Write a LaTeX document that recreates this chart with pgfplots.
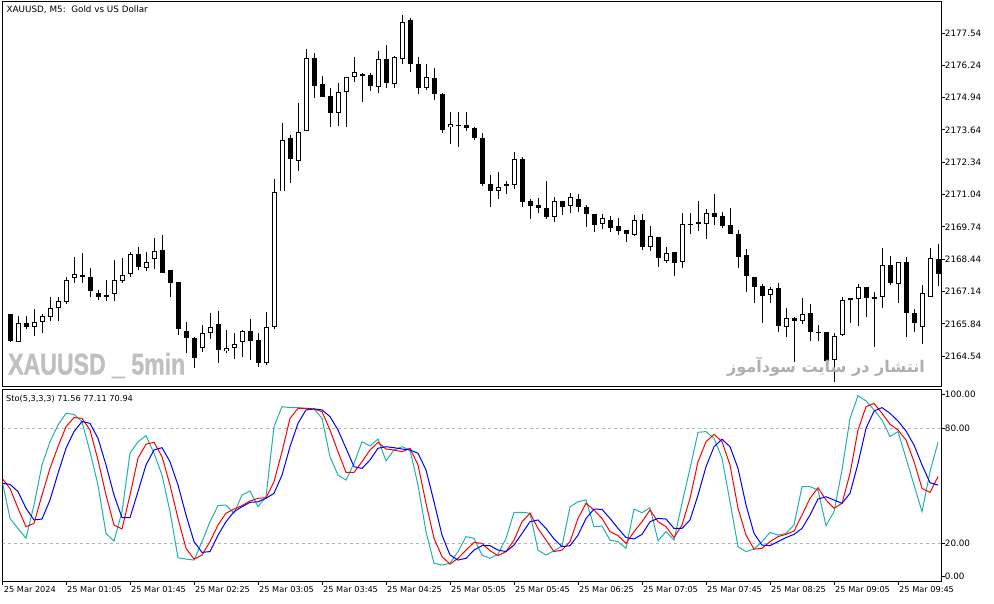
\documentclass[border=0pt]{standalone}
\usepackage{pgfplots}
\pgfplotsset{compat=1.18}
\usepackage{pgfplotstable}
\usepackage{fontspec}
\usepackage{graphicx}
\setmainfont{DejaVu Sans}
\newfontfamily\wmfont[FakeBold=1.5]{Liberation Sans}
\newfontfamily\arabicfont[Script=Arabic]{DejaVu Sans}
\TeXXeTstate=1

\definecolor{kline}{RGB}{32,178,170}
\definecolor{wmgray}{RGB}{192,192,192}
\definecolor{fagray}{RGB}{175,175,175}
\definecolor{lvl}{RGB}{180,180,180}

% bullish candles: n open high low close
\pgfplotstableread{
n o h l c
2 2165.11 2166.15 2165.11 2165.87
4 2165.71 2166.43 2165.35 2165.91
5 2165.91 2166.23 2165.47 2166.15
6 2166.11 2166.92 2165.95 2166.47
7 2166.47 2166.92 2165.95 2166.76
8 2166.72 2167.72 2166.64 2167.60
9 2167.68 2168.53 2167.48 2167.84
13 2166.92 2167.60 2166.76 2167.00
14 2167.04 2168.41 2166.76 2167.60
15 2167.56 2168.49 2167.48 2167.80
16 2167.84 2168.73 2167.72 2168.65
18 2168.12 2168.73 2168.00 2168.33
19 2168.45 2169.29 2168.08 2168.77
25 2164.86 2165.79 2164.70 2165.47
26 2165.47 2166.27 2165.23 2165.71
28 2164.74 2165.59 2164.66 2164.86
29 2164.86 2165.47 2164.42 2165.02
30 2165.11 2165.59 2164.54 2165.55
33 2164.26 2166.31 2164.18 2165.71
34 2165.71 2171.67 2165.63 2171.14
35 2171.18 2173.92 2171.18 2173.27
37 2172.39 2174.72 2171.99 2173.56
38 2173.60 2176.90 2173.60 2176.53
42 2174.32 2175.53 2173.80 2175.17
43 2175.17 2175.77 2173.76 2175.77
44 2175.77 2176.57 2175.57 2175.97
47 2175.37 2176.82 2175.13 2176.49
49 2175.49 2176.61 2175.33 2176.57
50 2176.53 2178.30 2176.33 2178.02
53 2175.33 2176.29 2175.25 2175.77
56 2173.76 2174.36 2173.11 2173.88
62 2171.18 2171.95 2170.86 2171.34
63 2171.38 2171.59 2171.06 2171.46
64 2171.46 2172.75 2171.26 2172.47
69 2170.14 2170.94 2169.97 2170.78
71 2170.58 2171.10 2170.30 2170.94
75 2169.89 2170.26 2169.65 2170.10
79 2169.41 2170.22 2169.37 2170.02
81 2168.93 2169.77 2168.77 2169.37
83 2168.37 2168.93 2168.29 2168.69
85 2168.33 2170.30 2168.08 2169.85
88 2169.85 2170.46 2169.25 2170.30
96 2167.00 2167.36 2166.68 2167.24
98 2165.71 2166.47 2165.31 2166.07
100 2165.95 2166.88 2165.83 2166.23
104 2164.38 2165.47 2163.50 2165.35
105 2165.39 2166.92 2165.35 2166.80
107 2166.84 2167.44 2165.75 2167.32
109 2166.84 2167.12 2164.90 2166.92
110 2166.92 2168.89 2166.47 2168.20
112 2167.44 2168.33 2166.68 2168.33
115 2165.71 2167.40 2165.03 2167.08
116 2166.92 2168.89 2166.92 2168.49
}\bull

% bearish candles and dojis
\pgfplotstableread{
n o h l c
1 2166.23 2166.23 2165.11 2165.15
3 2165.87 2166.15 2165.63 2165.71
10 2167.80 2168.69 2167.48 2167.72
11 2167.72 2168.08 2166.92 2167.16
12 2167.12 2167.24 2166.80 2166.92
17 2168.65 2168.93 2168.00 2168.12
20 2168.81 2169.41 2167.88 2167.92
21 2168.00 2168.00 2166.92 2167.48
22 2167.52 2167.52 2165.39 2165.63
23 2165.55 2165.91 2164.66 2165.27
24 2165.27 2165.31 2164.06 2164.46
27 2165.83 2166.35 2164.26 2164.78
31 2165.55 2166.03 2164.38 2165.15
32 2165.19 2165.47 2164.10 2164.26
36 2173.31 2173.44 2171.50 2172.47
39 2176.53 2176.74 2174.93 2175.41
40 2175.49 2175.81 2174.97 2175.00
41 2175.00 2175.33 2173.76 2174.32
45 2175.89 2175.93 2174.76 2175.81
46 2175.85 2175.93 2175.21 2175.41
48 2176.49 2177.06 2175.33 2175.53
51 2178.10 2178.18 2175.97 2176.33
52 2176.29 2176.57 2175.09 2175.33
54 2175.73 2176.13 2174.88 2175.09
55 2175.09 2175.13 2173.52 2173.64
57 2173.84 2174.36 2172.95 2173.84
58 2173.84 2174.36 2173.60 2173.72
59 2173.72 2173.76 2173.23 2173.31
60 2173.31 2173.52 2171.38 2171.46
61 2171.46 2171.83 2170.54 2171.18
65 2172.47 2172.55 2170.54 2170.74
66 2170.78 2170.86 2170.06 2170.58
67 2170.62 2170.90 2170.30 2170.50
68 2170.50 2171.59 2170.06 2170.14
70 2170.78 2170.78 2170.22 2170.54
72 2170.86 2171.06 2170.34 2170.54
73 2170.54 2170.62 2169.73 2170.26
74 2170.26 2170.26 2169.53 2169.85
76 2170.02 2170.18 2169.57 2169.73
77 2169.77 2170.10 2169.41 2169.57
78 2169.61 2169.61 2169.13 2169.45
80 2170.02 2170.26 2168.81 2168.93
82 2169.33 2169.33 2168.12 2168.49
84 2168.73 2168.73 2167.76 2168.29
86 2169.85 2170.30 2169.45 2169.85
87 2169.93 2170.78 2169.57 2169.85
89 2170.30 2171.06 2169.85 2170.14
90 2170.18 2170.34 2169.69 2169.77
91 2169.81 2170.50 2169.45 2169.45
92 2169.45 2169.61 2168.08 2168.53
93 2168.61 2168.85 2167.12 2167.76
94 2167.72 2167.72 2166.68 2167.32
95 2167.36 2167.44 2165.87 2166.96
97 2167.28 2167.48 2165.51 2165.75
99 2166.07 2166.11 2164.30 2165.95
101 2166.27 2166.64 2165.15 2165.51
102 2165.51 2165.79 2165.15 2165.51
103 2165.51 2165.51 2164.30 2164.34
106 2166.84 2166.84 2165.87 2166.84
108 2167.32 2167.32 2166.11 2166.88
111 2168.20 2168.57 2167.40 2167.48
113 2168.33 2168.53 2165.31 2166.27
114 2166.27 2166.43 2165.51 2165.87
117 2168.45 2169.05 2167.36 2167.88
}\bear

\pgfplotsset{
  mt5/.style={
    scale only axis, width=939pt,
    xmin=0.0875, xmax=117.46,
    axis line style={line width=1pt},
    tick align=outside, major tick length=3pt,
    tick style={black, line width=1pt},
    ytick pos=right, yticklabel pos=right,
    xticklabel style={font=\fontsize{8.2}{10}\selectfont},
    yticklabel style={font=\fontsize{8.8}{10}\selectfont, anchor=west, inner sep=0pt, xshift=0pt},
  },
}

\begin{document}
\begin{tikzpicture}
\useasboundingbox (0,0) rectangle (994pt,-603pt);

\begin{axis}[mt5,
  at={(2.7pt,-1.5pt)}, anchor=north west, height=385.2pt,
  ymin=2163.31, ymax=2178.81, xtick=\empty,
  ytick={2164.54,2165.84,2167.14,2168.44,2169.74,2171.04,2172.34,2173.64,2174.94,2176.24,2177.54},
  yticklabels={2164.54,2165.84,2167.14,2168.44,2169.74,2171.04,2172.34,2173.64,2174.94,2176.24,2177.54},
]
% wicks
\addplot[draw=none, mark=none, forget plot,
  error bars/.cd, y dir=both, y explicit, error mark=none,
  error bar style={draw=black, line width=1pt}]
  table[x=n, y expr={(\thisrow{h}+\thisrow{l})/2}, y error expr={(\thisrow{h}-\thisrow{l})/2}] {\bull};
\addplot[draw=none, mark=none, forget plot,
  error bars/.cd, y dir=both, y explicit, error mark=none,
  error bar style={draw=black, line width=1pt}]
  table[x=n, y expr={(\thisrow{h}+\thisrow{l})/2}, y error expr={(\thisrow{h}-\thisrow{l})/2}] {\bear};
% bearish bodies
\addplot[draw=none, mark=none, forget plot,
  error bars/.cd, y dir=both, y explicit, error mark=none,
  error bar style={draw=black, line width=5pt}]
  table[x=n, y expr={(\thisrow{o}+\thisrow{c})/2}, y error expr={max((\thisrow{o}-\thisrow{c})/2,0.02)}] {\bear};
% bullish bodies: outline, then white inside
\addplot[draw=none, mark=none, forget plot,
  error bars/.cd, y dir=both, y explicit, error mark=none,
  error bar style={draw=black, line width=5pt}]
  table[x=n, y expr={(\thisrow{o}+\thisrow{c})/2}, y error expr={max((\thisrow{c}-\thisrow{o})/2,0.02)}] {\bull};
\addplot[draw=none, mark=none, forget plot,
  error bars/.cd, y dir=both, y explicit, error mark=none,
  error bar style={draw=white, line width=3pt}]
  table[x=n, y expr={(\thisrow{o}+\thisrow{c})/2}, y error expr={max((\thisrow{c}-\thisrow{o})/2-0.04,0)}] {\bull};
\end{axis}

\begin{axis}[mt5,
  at={(2.7pt,-389pt)}, anchor=north west, height=192.7pt,
  ymin=0, ymax=100.5,
  ytick={2.6,20,80,97.7}, yticklabels={0.00,20.00,80.00,100.00},
  xtick pos=bottom,
  xtick={0.0875,8,16,24,32,40,48,56,64,72,80,88,96,104,112},
  xticklabels={25 Mar 2024,25 Mar 01:05,25 Mar 01:45,25 Mar 02:25,25 Mar 03:05,25 Mar 03:45,25 Mar 04:25,25 Mar 05:05,25 Mar 05:45,25 Mar 06:25,25 Mar 07:05,25 Mar 07:45,25 Mar 08:25,25 Mar 09:05,25 Mar 09:45},
  xticklabel style={anchor=north west, inner sep=0pt, xshift=1pt, yshift=-1.5pt},
]
\addplot[lvl, line width=0.8pt, dash pattern=on 3pt off 3pt] coordinates {(0,20) (118,20)};
\addplot[lvl, line width=0.8pt, dash pattern=on 3pt off 3pt] coordinates {(0,80) (118,80)};
\addplot[kline, line width=1pt] coordinates {(0,53.0) (1,33.0) (2,27.8) (3,22.6) (4,40.0) (5,60.9) (6,73.0) (7,81.7) (8,87.8) (9,87.3) (10,83.5) (11,67.8) (12,50.4) (13,25.2) (14,21.2) (15,36.5) (16,67.0) (17,73.0) (18,76.2) (19,67.0) (20,55.6) (21,36.5) (22,12.5) (23,11.8) (24,11.3) (25,20.9) (26,31.3) (27,39.7) (28,40.0) (29,35.7) (30,45.2) (31,47.3) (32,39.1) (33,44.3) (34,80.9) (35,91.3) (36,90.8) (37,90.8) (38,90.4) (39,90.1) (40,85.2) (41,65.2) (42,55.6) (43,53.0) (44,61.7) (45,73.0) (46,70.8) (47,74.4) (48,63.0) (49,68.7) (50,70.4) (51,68.7) (52,50.4) (53,26.1) (54,9.6) (55,8.7) (56,9.6) (57,15.7) (58,23.5) (59,22.6) (60,13.9) (61,12.2) (62,14.3) (63,22.6) (64,36.2) (65,36.2) (66,35.7) (67,16.5) (68,13.9) (69,16.2) (70,18.6) (71,39.1) (72,41.7) (73,42.6) (74,28.7) (75,29.0) (76,21.7) (77,20.9) (78,17.4) (79,37.9) (80,36.0) (81,38.6) (82,21.4) (83,26.1) (84,21.7) (85,40.9) (86,59.1) (87,77.9) (88,78.3) (89,74.8) (90,64.4) (91,41.7) (92,18.3) (93,15.7) (94,17.0) (95,20.9) (96,25.7) (97,24.3) (98,25.2) (99,29.6) (100,49.6) (101,49.6) (102,47.8) (103,29.2) (104,36.5) (105,58.3) (106,85.2) (107,97.0) (108,94.3) (109,89.6) (110,84.3) (111,75.7) (112,78.3) (113,64.4) (114,50.4) (115,36.5) (116,57.4) (117,72.7)};
\addplot[red, line width=1pt] coordinates {(0,53.9) (1,48.7) (2,38.3) (3,28.7) (4,30.4) (5,45.2) (6,59.1) (7,70.4) (8,80.9) (9,85.6) (10,85.2) (11,79.1) (12,63.5) (13,45.2) (14,29.6) (15,27.5) (16,45.2) (17,64.4) (18,71.7) (19,72.7) (20,65.2) (21,50.4) (22,33.0) (23,17.4) (24,11.8) (25,13.9) (26,20.9) (27,29.6) (28,35.7) (29,37.9) (30,39.7) (31,42.1) (32,43.5) (33,43.8) (34,52.2) (35,67.8) (36,85.2) (37,90.4) (38,90.4) (39,90.1) (40,88.7) (41,79.1) (42,67.8) (43,57.0) (44,57.0) (45,62.6) (46,68.7) (47,72.7) (48,69.2) (49,68.7) (50,67.8) (51,69.6) (52,60.9) (53,40.9) (54,22.6) (55,13.1) (56,9.2) (57,12.2) (58,16.5) (59,20.5) (60,20.0) (61,16.2) (62,13.6) (63,15.7) (64,21.7) (65,31.3) (66,35.7) (67,27.8) (68,21.7) (69,15.7) (70,16.5) (71,20.9) (72,33.0) (73,40.9) (74,37.4) (75,33.0) (76,26.1) (77,24.0) (78,20.0) (79,26.1) (80,31.3) (81,37.4) (82,31.3) (83,28.7) (84,23.0) (85,29.6) (86,43.5) (87,62.6) (88,73.0) (89,76.9) (90,73.0) (91,60.9) (92,38.3) (93,24.3) (94,17.0) (95,17.4) (96,20.9) (97,23.5) (98,24.7) (99,26.4) (100,34.8) (101,43.5) (102,49.0) (103,42.6) (104,38.3) (105,40.9) (106,56.5) (107,79.1) (108,91.3) (109,93.0) (110,87.8) (111,82.1) (112,79.1) (113,73.9) (114,62.6) (115,48.7) (116,46.6) (117,54.8)};
\addplot[blue, line width=1pt] coordinates {(0,51.3) (1,50.8) (2,47.0) (3,38.3) (4,32.2) (5,32.7) (6,42.6) (7,56.5) (8,69.6) (9,78.3) (10,83.5) (11,82.6) (12,74.8) (13,60.9) (14,45.2) (15,33.4) (16,33.4) (17,47.0) (18,60.9) (19,68.7) (20,69.9) (21,62.6) (22,50.4) (23,34.8) (24,20.9) (25,15.3) (26,15.7) (27,24.3) (28,31.3) (29,36.5) (30,39.1) (31,41.4) (32,41.7) (33,43.5) (34,46.1) (35,55.6) (36,70.4) (37,82.6) (38,89.6) (39,90.1) (40,89.6) (41,86.1) (42,79.1) (43,69.6) (44,60.0) (45,59.1) (46,63.5) (47,69.6) (48,70.4) (49,69.9) (50,69.2) (51,68.7) (52,67.0) (53,58.3) (54,41.7) (55,24.3) (56,13.9) (57,11.3) (58,12.2) (59,16.5) (60,18.8) (61,18.8) (62,16.5) (63,15.7) (64,19.1) (65,25.2) (66,31.3) (67,32.2) (68,27.8) (69,22.3) (70,18.3) (71,18.8) (72,24.3) (73,33.0) (74,37.9) (75,37.7) (76,33.0) (77,27.8) (78,23.0) (79,22.3) (80,24.7) (81,31.3) (82,33.0) (83,32.7) (84,27.8) (85,27.8) (86,32.2) (87,45.2) (88,60.0) (89,70.4) (90,74.3) (91,70.4) (92,59.1) (93,40.0) (94,25.2) (95,19.1) (96,18.8) (97,20.9) (98,23.0) (99,24.7) (100,27.8) (101,34.8) (102,43.1) (103,44.3) (104,42.6) (105,40.9) (106,46.1) (107,61.7) (108,80.0) (109,89.0) (110,90.8) (111,87.8) (112,83.8) (113,78.6) (114,71.3) (115,60.9) (116,51.6) (117,50.4)};
\end{axis}

\node[anchor=west, inner sep=0pt, font=\fontsize{8.8}{10}\selectfont] at (6.5pt,-10pt) {XAUUSD, M5:\ \ Gold vs US Dollar};
\node[anchor=west, inner sep=0pt, font=\fontsize{8.2}{10}\selectfont] at (6pt,-399pt) {Sto(5,3,3,3) 71.56 77.11 70.94};
\node[anchor=south west, inner sep=0pt, text=wmgray] at (8pt,-378.3pt) {\resizebox{177pt}{21.6pt}{\wmfont\bfseries XAUUSD \_ 5min}};
\node[inner sep=0pt, text=fagray] at (826pt,-367pt) {\resizebox{198pt}{!}{\arabicfont\bfseries\beginR انتشار در سایت سودآموز\endR}};
\end{tikzpicture}
\end{document}
